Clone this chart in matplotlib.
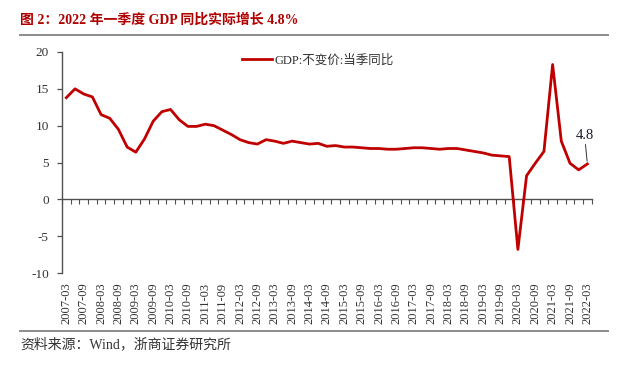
import matplotlib
matplotlib.use("Agg")
import matplotlib.pyplot as plt
import numpy as np

# ---- data ----
quarters = [f"{y}-{m}" for y in range(2007, 2022) for m in ("03", "06", "09", "12")] + ["2022-03"]
gdp = [13.8, 15.0, 14.3, 13.9,
       11.5, 11.0, 9.5, 7.1,
       6.4, 8.2, 10.6, 11.9,
       12.2, 10.8, 9.9, 9.9,
       10.2, 10.0, 9.4, 8.8,
       8.1, 7.7, 7.5, 8.1,
       7.9, 7.6, 7.9, 7.7,
       7.5, 7.6, 7.2, 7.3,
       7.1, 7.1, 7.0, 6.9,
       6.9, 6.8, 6.8, 6.9,
       7.0, 7.0, 6.9, 6.8,
       6.9, 6.9, 6.7, 6.5,
       6.3, 6.0, 5.9, 5.8,
       -6.8, 3.2, 4.9, 6.5,
       18.3, 7.9, 4.9, 4.0,
       4.8]
series_name = "GDP:不变价:当季同比"
title = "图 2：2022 年一季度 GDP 同比实际增长 4.8%"
source = "资料来源：Wind，浙商证券研究所"
yticks = [-10, -5, 0, 5, 10, 15, 20]

FAM = ['Liberation Serif', 'Noto Sans CJK SC']
plt.rcParams['font.family'] = FAM
RED = '#C00000'
AX = '#505050'

fig = plt.figure(figsize=(6.4, 3.78), dpi=100)
ax = fig.add_axes([62/640, 1-273/378, (591.7-62)/640, (273-52)/378])

x = np.arange(len(gdp))
line, = ax.plot(x, gdp, color=RED, lw=2.0, label=series_name, solid_joinstyle='round')

ax.set_xlim(-0.5, len(gdp)-0.5)
ax.set_ylim(-10, 20)
ax.set_yticks(yticks)
ax.set_yticklabels([str(v) for v in yticks], fontsize=9.5, color='#333333')
ax.tick_params(axis='y', direction='out', length=3.5, width=0.9, color=AX, pad=6)

for s in ('top', 'right', 'bottom'):
    ax.spines[s].set_visible(False)
ax.spines['left'].set_color(AX)
ax.spines['left'].set_linewidth(1.0)

# category labels at bottom
lab_idx = list(range(0, len(quarters), 2))
ax.set_xticks(lab_idx)
ax.set_xticklabels([quarters[i] for i in lab_idx], rotation=90, fontsize=9, color='#333333')
ax.tick_params(axis='x', length=0, pad=7)

# zero-line axis with boundary ticks
sec = ax.secondary_xaxis(1/3)
sec.set_xticks(np.arange(-0.5, len(gdp), 1.0))
sec.set_xticklabels([])
sec.tick_params(axis='x', direction='out', length=3.3, width=0.8, color=AX)
sec.spines['bottom'].set_color(AX)
sec.spines['bottom'].set_linewidth(1.0)

ax.annotate("4.8", xy=(x[-1], gdp[-1]), xytext=(-2, 16), textcoords='offset points',
            ha='center', va='bottom', fontsize=10.5, color='#1a1a2e',
            arrowprops=dict(arrowstyle='-', color='#333333', lw=0.7, shrinkA=0, shrinkB=2))

leg = ax.legend(handles=[line], loc='center left',
                bbox_to_anchor=(242/640, 1-60.7/378), bbox_transform=fig.transFigure,
                frameon=False, fontsize=9, handlelength=2.4, handletextpad=0.2,
                borderpad=0, borderaxespad=0)
for t in leg.get_texts():
    t.set_color('#333333')

fig.text(20/640, 1-20/378, title, fontsize=10, fontweight='bold', color='#B00000',
         ha='left', va='center')
fig.add_artist(plt.Line2D([20/640, 608/640], [1-34.7/378]*2, color='#8c8c8c', lw=1.4,
                          transform=fig.transFigure))
fig.add_artist(plt.Line2D([20/640, 608/640], [1-330.7/378]*2, color='#8c8c8c', lw=1.4,
                          transform=fig.transFigure))
fig.text(20/640, 1-344/378, source, fontsize=10, color='#333333', ha='left', va='center')

fig.savefig("out.png", dpi=100)
